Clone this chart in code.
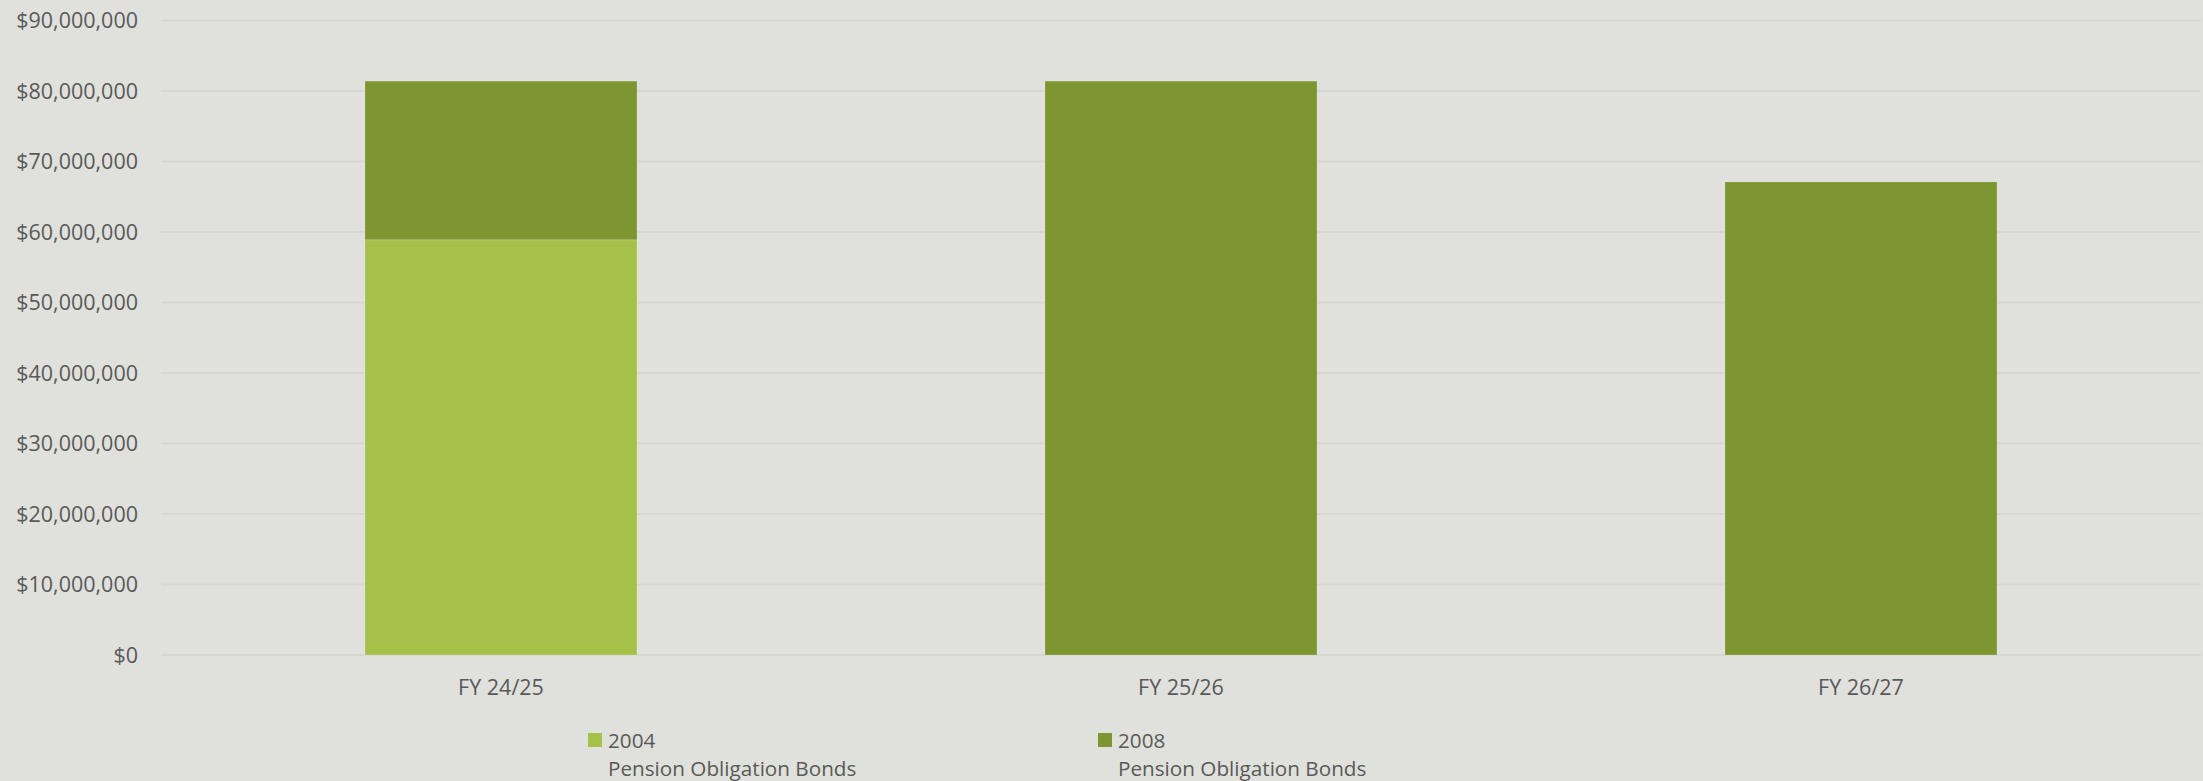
<!DOCTYPE html>
<html>
<head>
<meta charset="utf-8">
<script src="https://cdn.jsdelivr.net/npm/d3@7"></script>
<style>
  html, body { margin: 0; padding: 0; background: #e0e1dc; }
  svg { display: block; font-family: "Open Sans", sans-serif; }
</style>
</head>
<body>
<div class="vis-bars"></div>
<script>
// data
const years = ["FY 24/25", "FY 25/26", "FY 26/27"];
const bonds2004 = [58900000, 0, 0];
const bonds2008 = [22500000, 81400000, 67100000];
const yTicks = [0, 10000000, 20000000, 30000000, 40000000, 50000000, 60000000, 70000000, 80000000, 90000000];
const seriesNames = ["2004", "2008"];
const seriesLabels = ["2004\nPension Obligation Bonds", "2008\nPension Obligation Bonds"];
const colors = ["#a6c14a", "#7e9632"];

const width = 2203;
const height = 781;
const margin = { top: 20.5, right: 2, bottom: 126, left: 161 };

const rows = years.map((y, i) => ({ year: y, "2004": bonds2004[i], "2008": bonds2008[i] }));
const stacked = d3.stack().keys(seriesNames)(rows);

const svg = d3
  .select(".vis-bars")
  .append("svg")
  .attr("width", width)
  .attr("height", height);

const x = d3
  .scaleBand()
  .domain(years)
  .range([margin.left, width - margin.right])
  .paddingInner(0.6)
  .paddingOuter(0.3);

const y = d3
  .scaleLinear()
  .domain([0, 90000000])
  .range([height - margin.bottom, margin.top]);

// gridlines
svg
  .append("g")
  .selectAll("line")
  .data(yTicks)
  .enter()
  .append("line")
  .attr("x1", margin.left)
  .attr("x2", width - margin.right)
  .attr("y1", (d) => y(d))
  .attr("y2", (d) => y(d))
  .attr("stroke", "#d6d6d2")
  .attr("stroke-width", 2);

// y axis labels
const fmt = d3.format("$,");
svg
  .append("g")
  .selectAll("text")
  .data(yTicks)
  .enter()
  .append("text")
  .attr("x", 138)
  .attr("y", (d) => y(d))
  .attr("dy", "0.35em")
  .attr("text-anchor", "end")
  .attr("fill", "#595959")
  .attr("font-size", 21.5)
  .text((d) => fmt(d));

// bars
svg
  .append("g")
  .selectAll("g")
  .data(stacked)
  .enter()
  .append("g")
  .attr("fill", (d, i) => colors[i])
  .selectAll("rect")
  .data((d) => d.filter((p) => p[1] > p[0]))
  .enter()
  .append("rect")
  .attr("x", (d) => x(d.data.year))
  .attr("width", x.bandwidth())
  .attr("y", (d) => y(d[1]))
  .attr("height", (d) => y(d[0]) - y(d[1]))
  .attr("stroke", "rgba(255,255,255,0.15)")
  .attr("stroke-width", 1);

// x axis labels
svg
  .append("g")
  .selectAll("text")
  .data(years)
  .enter()
  .append("text")
  .attr("x", (d) => x(d) + x.bandwidth() / 2)
  .attr("y", 695)
  .attr("text-anchor", "middle")
  .attr("fill", "#595959")
  .attr("font-size", 21.5)
  .text((d) => d);

// legend
const legendX = [588, 1098];
const legend = svg
  .append("g")
  .selectAll("g")
  .data(seriesNames)
  .enter()
  .append("g")
  .attr("transform", (d, i) => `translate(${legendX[i]}, 733)`);

legend
  .append("rect")
  .attr("width", 14)
  .attr("height", 14)
  .attr("fill", (d, i) => colors[i]);

legend
  .append("text")
  .attr("fill", "#595959")
  .attr("font-size", 20.7)
  .selectAll("tspan")
  .data((d, i) => seriesLabels[i].split("\n"))
  .enter()
  .append("tspan")
  .attr("x", 20)
  .attr("y", (d, j) => 15 + j * 28)
  .text((d) => d);
</script>
</body>
</html>
